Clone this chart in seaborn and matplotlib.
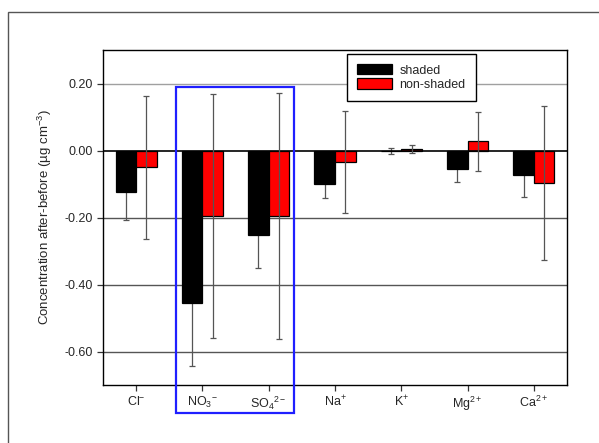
import matplotlib
matplotlib.use("Agg")
import matplotlib.pyplot as plt
from matplotlib.patches import Rectangle
import seaborn as sns
import pandas as pd

# Ion categories and the change in concentration (after - before)
ions = [r"Cl$^{-}$", r"NO$_{3}$$^{-}$", r"SO$_{4}$$^{2-}$", r"Na$^{+}$",
        r"K$^{+}$", r"Mg$^{2+}$", r"Ca$^{2+}$"]
groups = ["shaded", "non-shaded"]
shaded_mean = [-0.124, -0.455, -0.252, -0.100, -0.002, -0.054, -0.072]
shaded_err = [0.082, 0.187, 0.098, 0.041, 0.008, 0.040, 0.066]
nonshaded_mean = [-0.050, -0.196, -0.196, -0.034, 0.005, 0.028, -0.096]
nonshaded_err = [0.214, 0.364, 0.368, 0.152, 0.012, 0.088, 0.230]
ytick_values = [0.20, 0.00, -0.20, -0.40, -0.60]
ytick_labels = ["0.20", "0.00", "-0.20", "-0.40", "-0.60"]

sns.set_style("white")
plt.rcParams["font.family"] = ["Liberation Sans", "DejaVu Sans"]
plt.rcParams["mathtext.fontset"] = "custom"
plt.rcParams["mathtext.rm"] = "Liberation Sans"
plt.rcParams["mathtext.it"] = "Liberation Sans"
plt.rcParams["mathtext.default"] = "regular"
plt.rcParams["axes.unicode_minus"] = False

df = pd.DataFrame({
    "ion": ions * 2,
    "group": [groups[0]] * len(ions) + [groups[1]] * len(ions),
    "value": shaded_mean + nonshaded_mean,
})
errors = {groups[0]: shaded_err, groups[1]: nonshaded_err}
err_z = {groups[0]: 1.5, groups[1]: 4}

fig = plt.figure(figsize=(5.99, 4.43), dpi=100)
ax = fig.add_axes([103 / 599, 1 - 385 / 443, (567 - 103) / 599, (385 - 50) / 443])

# horizontal reference lines
for v in ytick_values:
    if v == 0:
        continue
    ax.axhline(v, color="#a0a0a0" if v > 0 else "#555555", lw=1.0, zorder=0)

sns.barplot(data=df, x="ion", y="value", hue="group", hue_order=groups,
            order=ions, palette=["#000000", "#ff0000"], saturation=1,
            width=0.62, edgecolor="black", linewidth=0.9, errorbar=None,
            ax=ax, zorder=2, legend=True)

ax.axhline(0, color="black", lw=1.2, zorder=3)

# error bars at the centre of each bar
for container, g in zip(ax.containers, groups):
    xs = [p.get_x() + p.get_width() / 2 for p in container.patches]
    ys = [p.get_y() + p.get_height() for p in container.patches]
    ax.errorbar(xs, ys, yerr=errors[g], fmt="none", ecolor="#555555",
                elinewidth=0.9, capsize=2.5, capthick=0.9, zorder=err_z[g])

ax.set_xlim(-0.5, 6.5)
ax.set_ylim(-0.70, 0.30)
ax.set_yticks(ytick_values)
ax.set_yticklabels(ytick_labels)
ax.set_xlabel("")
ax.set_ylabel(r"Concentration after-before (µg cm$^{-3}$)", fontsize=9.5,
              labelpad=8)
ax.tick_params(axis="both", which="both", direction="out", length=4,
               width=0.9, color="#333333", labelsize=9, pad=3,
               bottom=True, left=True)
for s in ax.spines.values():
    s.set_color("black")
    s.set_linewidth(1.0)

leg = ax.legend(loc="upper left", bbox_to_anchor=((347 - 103) / 464, (385 - 54) / 335),
                frameon=True, fancybox=False, edgecolor="black", fontsize=9,
                handlelength=2.8, handleheight=0.9, borderpad=0.8,
                labelspacing=0.15, handletextpad=0.6, borderaxespad=0)
leg.get_frame().set_linewidth(1.0)
leg.get_frame().set_alpha(1)

# highlight box around the NO3- and SO4 2- columns
fig.patches.append(Rectangle((176 / 599, 1 - 413 / 443), (294 - 176) / 599,
                             (413 - 87) / 443, transform=fig.transFigure,
                             fill=False, edgecolor="#1f1fff", lw=1.6, zorder=10))

# outer page frame
fig.patches.append(Rectangle((8 / 599, -0.1), 1.2, 1 - 12 / 443 + 0.1,
                             transform=fig.transFigure, fill=False,
                             edgecolor="#555555", lw=1.0, zorder=0))

fig.savefig("out.png", dpi=100)
